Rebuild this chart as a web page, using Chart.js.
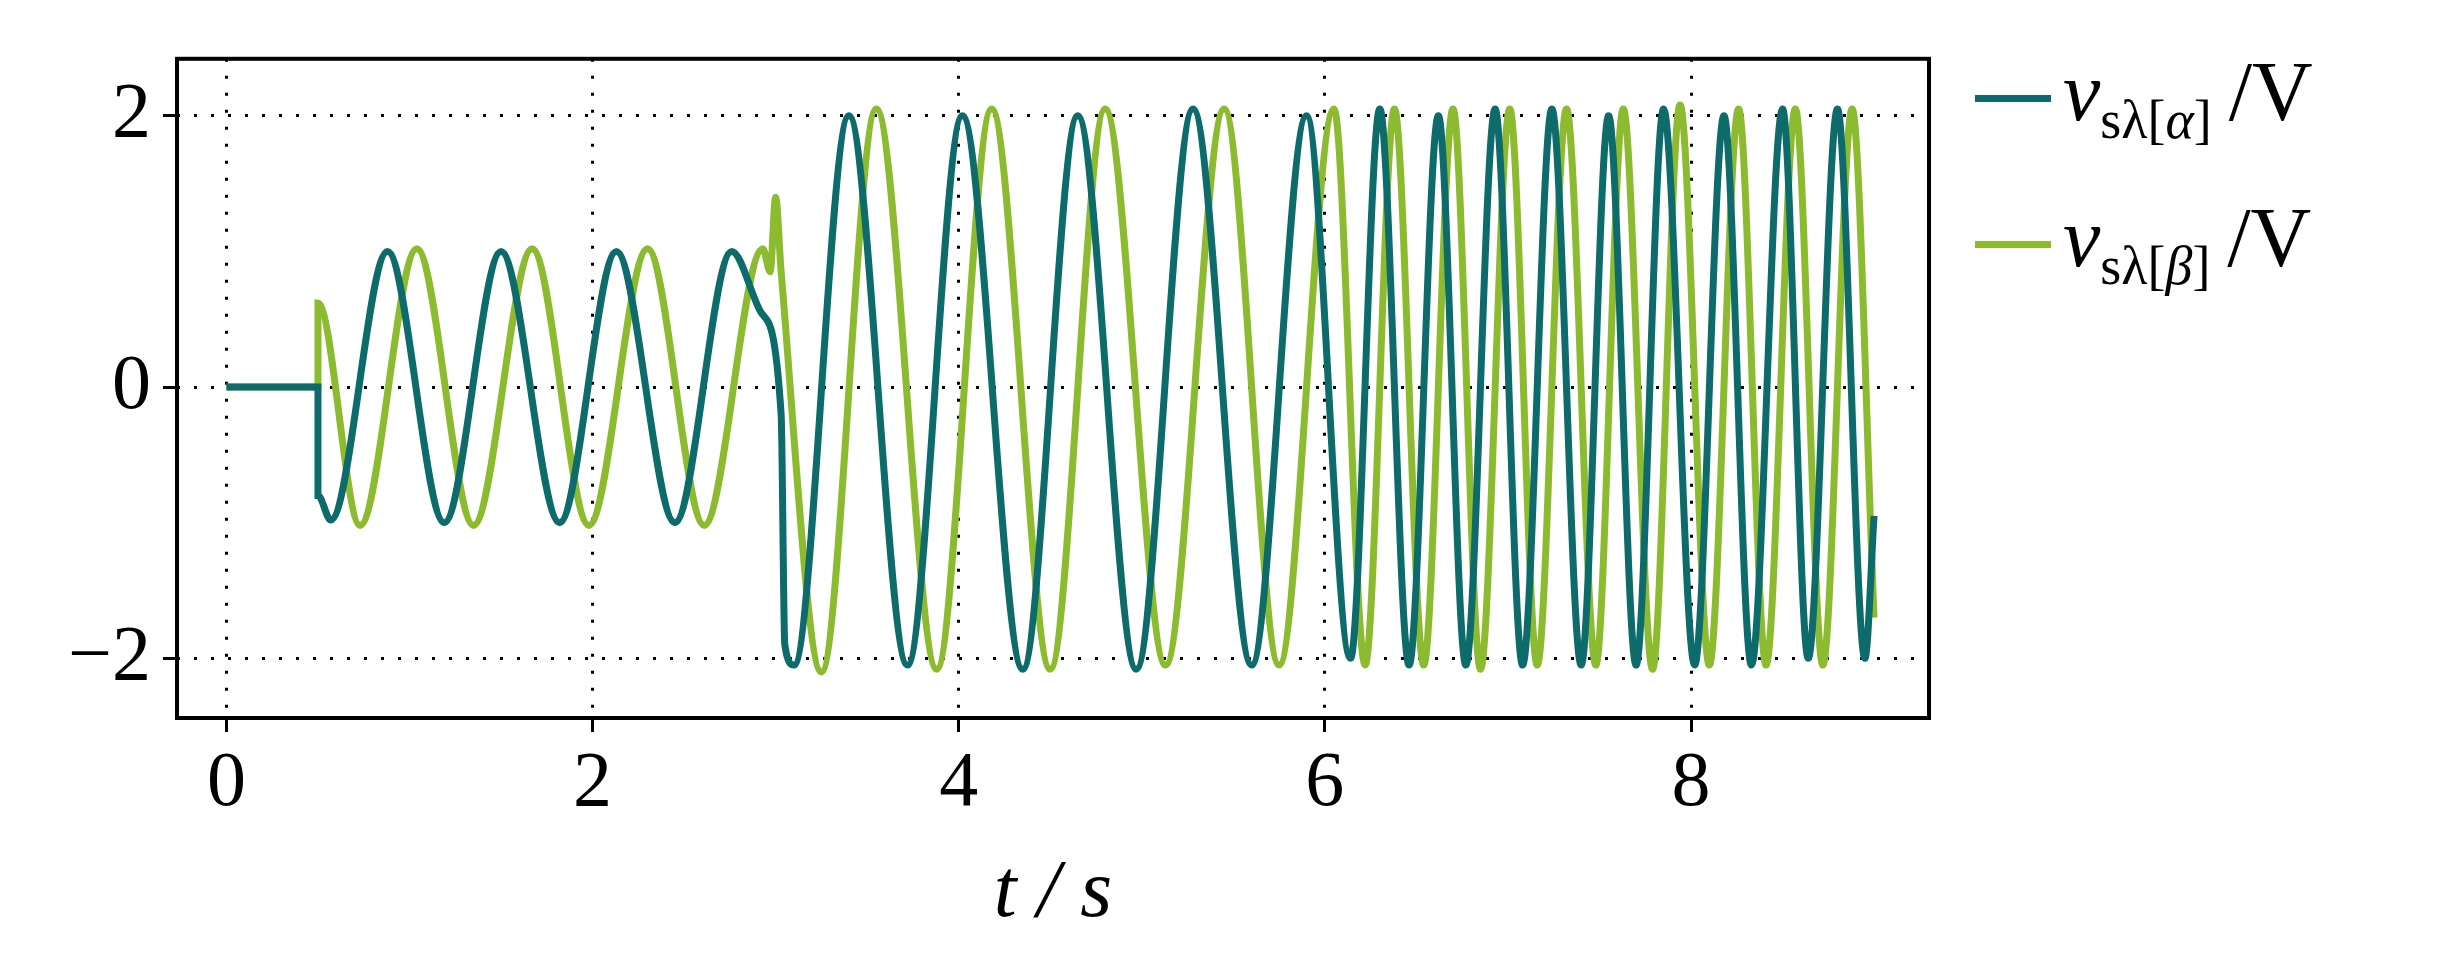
<!DOCTYPE html>
<html lang="en">
<head>
<meta charset="utf-8">
<title>v_s alpha beta</title>
<script src="https://cdn.jsdelivr.net/npm/chart.js@4.4.0/dist/chart.umd.min.js"></script>
<style>
  body { margin: 0; background: #fff; }
  #wrap { position: relative; width: 2463px; height: 955px; }
  .leg { position: absolute; left: 1975px; font-family: "Liberation Serif", "DejaVu Serif", serif; font-size: 84px; display: flex; align-items: center; line-height: 1; }
  .leg span.sw { display: inline-block; width: 76px; height: 7px; margin-right: 12px; }
  sub { font-size: 54px; }
</style>
</head>
<body>
<div id="wrap">
  <canvas id="myChart" width="2463" height="955"></canvas>
  <div class="leg" style="top:50px"><span class="sw" style="background:#0d6b6b"></span><span><i>v</i><sub>sλ[<i>α</i>]</sub>&thinsp;/V</span></div>
  <div class="leg" style="top:196px"><span class="sw" style="background:#8cbb2f"></span><span><i>v</i><sub>sλ[<i>β</i>]</sub>&thinsp;/V</span></div>
</div>
<script>
// extrema: [t in s, value in V]
const alphaPts = [
  [0,0],[0.5,0],[0.5,-0.8],[0.57,-0.98],[0.88,1.0],[1.19,-1.0],[1.5,1.0],[1.82,-1.0],
  [2.13,1.0],[2.45,-1.0],[2.76,1.0],[2.92,0.55],[3.03,-0.2],[3.05,-1.9],[3.1,-2.05],[3.4,2.0],
  [3.72,-2.05],[4.02,2.0],[4.35,-2.08],[4.65,2.0],[4.97,-2.08],[5.28,2.05],[5.6,-2.05],
  [5.9,2.0],[6.14,-2.0],[6.3,2.05],[6.46,-2.05],[6.62,2.0],[6.77,-2.05],[6.93,2.05],
  [7.08,-2.05],[7.24,2.05],[7.4,-2.05],[7.55,2.0],[7.7,-2.05],[7.85,2.05],[8.02,-2.05],
  [8.18,2.0],[8.33,-2.05],[8.5,2.05],[8.64,-2.0],[8.8,2.05],[8.95,-2.0],[9.0,-0.95]
];
const betaPts = [
  [0,0],[0.5,0],[0.5,0.62],[0.73,-1.02],[1.04,1.02],[1.35,-1.02],[1.67,1.02],[1.98,-1.02],
  [2.3,1.02],[2.61,-1.02],[2.93,1.02],[2.97,0.85],[3.0,1.4],[3.03,0.85],[3.25,-2.1],
  [3.55,2.05],[3.88,-2.08],[4.18,2.05],[4.5,-2.08],[4.8,2.05],[5.13,-2.05],[5.45,2.05],
  [5.75,-2.05],[6.05,2.05],[6.22,-2.05],[6.38,2.05],[6.54,-2.05],[6.7,2.05],[6.85,-2.08],
  [7.01,2.05],[7.16,-2.05],[7.32,2.05],[7.48,-2.05],[7.63,2.05],[7.79,-2.08],[7.94,2.08],
  [8.1,-2.05],[8.26,2.05],[8.41,-2.05],[8.57,2.05],[8.72,-2.05],[8.88,2.05],[9.0,-1.7]
];
const xTicks = [0, 2, 4, 6, 8];
const yTicks = [-2, 0, 2];

const toXY = pts => pts.map(p => ({ x: p[0], y: p[1] }));
const serif = '"Liberation Serif", "DejaVu Serif", serif';

const frame = {
  id: 'frame',
  afterDraw(chart) {
    const a = chart.chartArea, c = chart.ctx;
    c.save();
    c.strokeStyle = '#000';
    c.lineWidth = 4;
    c.strokeRect(a.left, a.top, a.right - a.left, a.bottom - a.top);
    c.restore();
  }
};

const gridOpts = { color: '#000', lineWidth: 3, tickLength: 14, tickColor: '#000', tickWidth: 3, tickBorderDash: [] };

new Chart(document.getElementById('myChart'), {
  type: 'scatter',
  data: {
    datasets: [
      { label: 'alpha', data: toXY(alphaPts), showLine: true, borderColor: '#0d6b6b', borderWidth: 7, pointRadius: 0, cubicInterpolationMode: 'monotone' },
      { label: 'beta', data: toXY(betaPts), showLine: true, borderColor: '#8cbb2f', borderWidth: 7, pointRadius: 0, cubicInterpolationMode: 'monotone' }
    ]
  },
  options: {
    responsive: false,
    animation: false,
    layout: { padding: { left: 17, right: 534, top: 24, bottom: 7 } },
    plugins: { legend: { display: false }, tooltip: { enabled: false } },
    scales: {
      x: {
        type: 'linear', min: -0.27, max: 9.3,
        afterBuildTicks: s => { s.ticks = xTicks.map(v => ({ value: v })); },
        afterFit: s => { s.height = 230; },
        grid: gridOpts,
        border: { display: false, dash: [3, 14] },
        ticks: { color: '#000', font: { family: serif, size: 78 }, padding: 6 },
        title: { display: true, text: 't / s', color: '#000', font: { family: serif, size: 82, style: 'italic' }, padding: { top: 10 } }
      },
      y: {
        min: -2.44, max: 2.42,
        afterBuildTicks: s => { s.ticks = yTicks.map(v => ({ value: v })); },
        afterFit: s => { s.width = 160; },
        grid: gridOpts,
        border: { display: false, dash: [3, 14] },
        ticks: { color: '#000', font: { family: serif, size: 78 }, padding: 12,
                 callback: v => v < 0 ? '\u2212' + Math.abs(v) : String(v) }
      }
    }
  },
  plugins: [frame]
});
</script>
</body>
</html>
